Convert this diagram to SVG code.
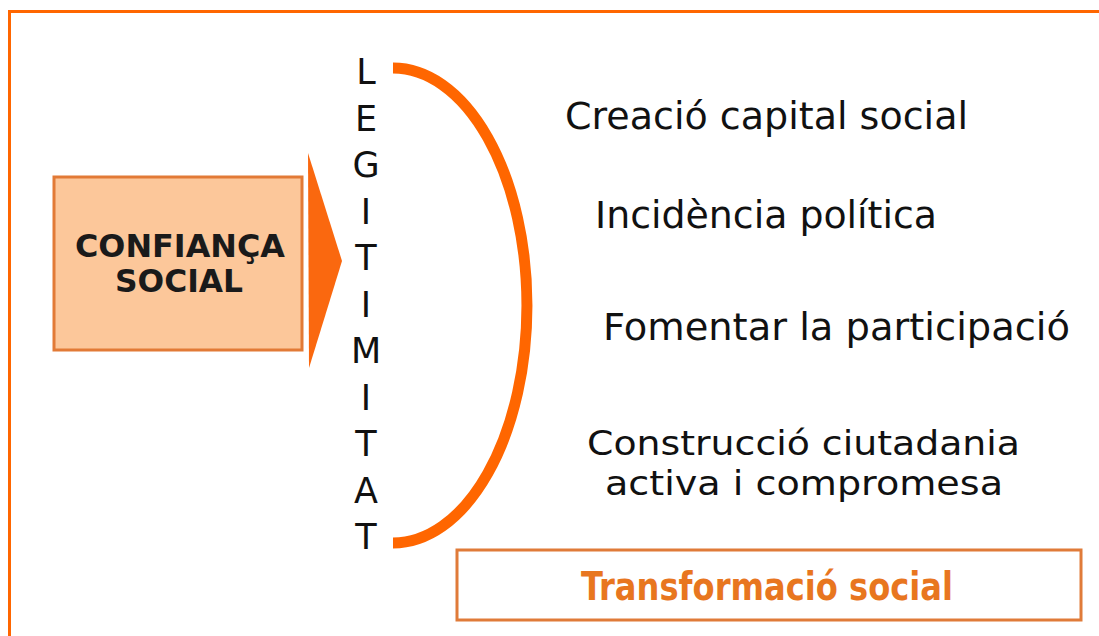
<svg xmlns="http://www.w3.org/2000/svg" width="1099" height="636" viewBox="0 0 1099 636">
<style>
.frame{fill:none;stroke:#FF6600;stroke-width:3}
.src{fill:#FCC79A;stroke:#E27A36;stroke-width:3}
.box{fill:#FFFFFF;stroke:#E07B39;stroke-width:3}
.lbl{font-family:"DejaVu Sans","Verdana",sans-serif;font-size:37px;fill:#111111}
.lbl2{font-family:"DejaVu Sans","Verdana",sans-serif;font-size:34px;fill:#111111}
.let{font-family:"DejaVu Sans","Verdana",sans-serif;font-size:35px;fill:#111111;text-anchor:middle}
.bold{font-family:"DejaVu Sans","Verdana",sans-serif;font-weight:bold;font-size:32px;fill:#1a1a1a;text-anchor:middle}
.tr{font-family:"DejaVu Sans Condensed","DejaVu Sans",sans-serif;font-weight:bold;font-size:39px;fill:#E8761F}
</style>
<rect width="1099" height="636" fill="#FFFFFF"/>
<rect class="frame" x="9.5" y="11.5" width="1200" height="700"/>

<g id="confianca">
<rect class="src" x="54" y="177" width="248" height="173"/>
<text class="bold" x="180" y="257" textLength="210" lengthAdjust="spacingAndGlyphs">CONFIANÇA</text>
<text class="bold" x="179" y="292" textLength="128" lengthAdjust="spacingAndGlyphs">SOCIAL</text>
</g>

<g id="connectors">
<polygon points="308,153 342,261 309,368" fill="#FA680F"/>
<path d="M393,68 A134,237.5 0 0 1 393,543" fill="none" stroke="#FF6600" stroke-width="11"/>
</g>

<g id="legitimitat">
<text class="let" x="366" y="84">L</text>
<text class="let" x="366" y="130.5">E</text>
<text class="let" x="366" y="177">G</text>
<text class="let" x="366" y="223.5">I</text>
<text class="let" x="366" y="270">T</text>
<text class="let" x="366" y="316.5">I</text>
<text class="let" x="366" y="363">M</text>
<text class="let" x="366" y="409.5">I</text>
<text class="let" x="366" y="456">T</text>
<text class="let" x="366" y="502.5">A</text>
<text class="let" x="366" y="549">T</text>
</g>

<g id="creacio">
<text class="lbl" x="565" y="129" textLength="403" lengthAdjust="spacingAndGlyphs">Creació capital social</text>
</g>
<g id="incidencia">
<text class="lbl" x="595" y="228" textLength="342" lengthAdjust="spacingAndGlyphs">Incidència política</text>
</g>
<g id="fomentar">
<text class="lbl" x="603" y="340" textLength="467" lengthAdjust="spacingAndGlyphs">Fomentar la participació</text>
</g>
<g id="construccio">
<text class="lbl2" x="587" y="455" textLength="433" lengthAdjust="spacingAndGlyphs">Construcció ciutadania</text>
<text class="lbl2" x="605" y="495" textLength="398" lengthAdjust="spacingAndGlyphs">activa i compromesa</text>
</g>

<g id="transformacio">
<rect class="box" x="457" y="550" width="624" height="70"/>
<text class="tr" x="581" y="600" textLength="372" lengthAdjust="spacingAndGlyphs">Transformació social</text>
</g>
</svg>
